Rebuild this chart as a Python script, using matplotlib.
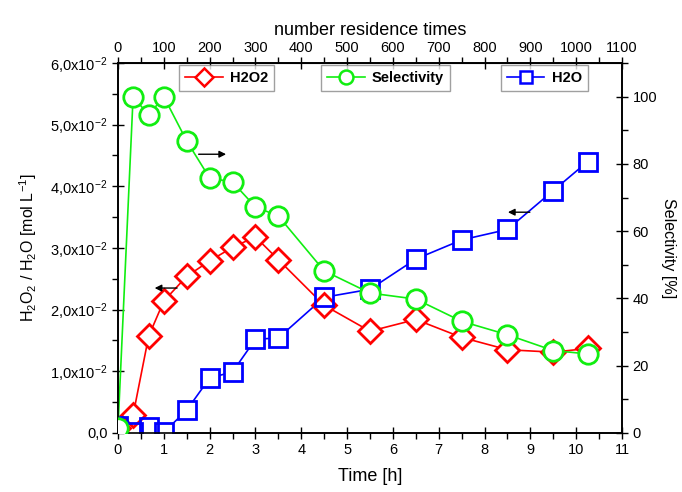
import numpy as np
import matplotlib
matplotlib.use("Agg")
import matplotlib.pyplot as plt
from matplotlib.lines import Line2D
from matplotlib.ticker import MultipleLocator, FixedLocator

plt.rcParams['font.family'] = ['Liberation Sans', 'DejaVu Sans']
plt.rcParams['mathtext.fontset'] = 'custom'
plt.rcParams['mathtext.rm'] = 'Liberation Sans'
plt.rcParams['mathtext.it'] = 'Liberation Sans:italic'

# data
time = [0, 0.33, 0.67, 1.0, 1.5, 2.0, 2.5, 3.0, 3.5, 4.5, 5.5, 6.5, 7.5, 8.5, 9.5, 10.25]
h2o2 = [0.0008, 0.0029, 0.0157, 0.0214, 0.0254, 0.0279, 0.0301, 0.0318, 0.0281,
        0.0207, 0.0165, 0.0184, 0.0155, 0.0135, 0.0131, 0.0137]
h2o = [0.0012, 0.0002, 0.0009, 0.0001, 0.0037, 0.0089, 0.0099, 0.0152, 0.0154,
       0.0220, 0.0233, 0.0282, 0.0313, 0.0330, 0.0393, 0.0440]
selectivity = [1.5, 100, 94.5, 100, 86.8, 75.8, 74.6, 67.2, 64.5, 48.2, 41.6,
               39.8, 33.2, 29.2, 24.5, 23.5]

left_ticks = [0, 0.01, 0.02, 0.03, 0.04, 0.05, 0.06]
left_labels = ['0,0', '1,0x10$^{-2}$', '2,0x10$^{-2}$', '3,0x10$^{-2}$',
               '4,0x10$^{-2}$', '5,0x10$^{-2}$', '6,0x10$^{-2}$']

RED = '#ff0000'
GREEN = '#11ee11'
BLUE = '#0000ff'

fig = plt.figure(figsize=(6.82, 4.92), dpi=100)
ax = fig.add_axes([0.173, 0.120, 0.739, 0.752])
ax2 = ax.twinx()


def series(a, x, y, color, marker, ms):
    # line under a white patch under the marker outline (Origin style gaps)
    a.plot(x, y, '-', color=color, lw=1.2, zorder=2)
    a.plot(x, y, linestyle='none', marker=marker, ms=ms, mfc='white', mec='none', zorder=3)
    a.plot(x, y, linestyle='none', marker=marker, ms=ms, mfc='none', mec=color, mew=2.0, zorder=4)


series(ax, time, h2o2, RED, 'D', 12)
series(ax, time, h2o, BLUE, 's', 12.5)
series(ax2, time, selectivity, GREEN, 'o', 14)

ax.set_xlim(0, 11)
ax.set_ylim(0, 0.06)
ax2.set_ylim(0, 110)

ax.xaxis.set_major_locator(MultipleLocator(1))
ax.xaxis.set_minor_locator(MultipleLocator(0.5))
ax.yaxis.set_major_locator(FixedLocator(left_ticks))
ax.yaxis.set_minor_locator(MultipleLocator(0.005))
ax.set_yticklabels(left_labels)
ax2.yaxis.set_major_locator(MultipleLocator(20))
ax2.yaxis.set_minor_locator(MultipleLocator(10))

top = ax.secondary_xaxis('top', functions=(lambda x: x * 100, lambda x: x / 100))
top.xaxis.set_major_locator(FixedLocator(np.arange(0, 1101, 100)))
top.xaxis.set_minor_locator(FixedLocator(np.arange(50, 1100, 100)))
top.set_xlabel('number residence times', fontsize=13, labelpad=4)

for a in (ax, ax2, top):
    a.tick_params(which='major', direction='inout', length=8, width=1.0, labelsize=10.5)
    a.tick_params(which='minor', direction='out', length=4, width=1.0)
ax.tick_params(which='both', top=False, right=False)
ax2.tick_params(which='both', left=False)
top.tick_params(axis='x', pad=2)

for a in (ax, ax2):
    for s in a.spines.values():
        s.set_linewidth(1.2)

ax.set_xlabel('Time [h]', fontsize=13, labelpad=8)
ax.set_ylabel('H$_2$O$_2$ / H$_2$O [mol L$^{-1}$]', fontsize=11.5, labelpad=8)
ax2.set_ylabel('Selectivity [%]', fontsize=11.5, rotation=270, labelpad=14)

# arrows showing which axis each curve belongs to
arrow = dict(arrowstyle='-|>', color='black', lw=1.0, mutation_scale=10)
ax.annotate('', xy=(2.42, 0.0452), xytext=(1.7, 0.0452), arrowprops=arrow, zorder=6)
ax.annotate('', xy=(0.74, 0.0235), xytext=(1.35, 0.0235), arrowprops=arrow, zorder=6)
ax.annotate('', xy=(8.45, 0.0358), xytext=(9.05, 0.0358), arrowprops=arrow, zorder=6)

# three separate legend boxes
entries = [('H2O2', RED, 'D', 9, 0.332), ('Selectivity', GREEN, 'o', 10, 0.565),
           ('H2O', BLUE, 's', 9, 0.798)]
for label, color, marker, ms, xc in entries:
    h = Line2D([], [], color=color, lw=1.2, marker=marker, ms=ms, mfc='white',
               mec=color, mew=1.8)
    leg = fig.legend([h], [label], loc='center', bbox_to_anchor=(xc, 0.842),
                     frameon=True, fancybox=False, edgecolor='#888888',
                     handlelength=2.6, borderpad=0.4, borderaxespad=0,
                     handletextpad=0.5, prop={'weight': 'bold', 'size': 10.5})
    leg.get_frame().set_linewidth(1.0)

fig.savefig('out.png', dpi=100)
